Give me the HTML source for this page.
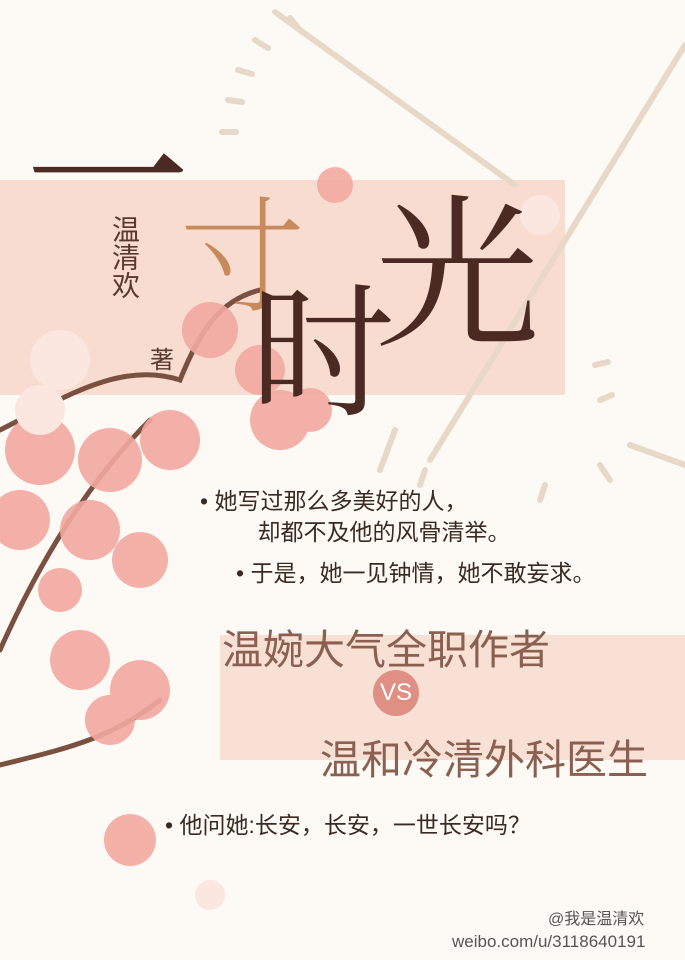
<!DOCTYPE html>
<html><head><meta charset="utf-8"><style>
body{margin:0;width:685px;height:960px;overflow:hidden;background:#fdfaf6;position:relative;font-family:"Liberation Sans","Noto Sans CJK SC",sans-serif}
.abs{position:absolute}
.t{font-family:"Noto Serif CJK SC",serif;color:#4a2a22;line-height:1}
</style></head><body>
<div class="abs" style="left:0;top:180px;width:565px;height:215px;background:#f8dcd0"></div>
<div class="abs" style="left:220px;top:635px;width:465px;height:125px;background:#f9e0d5"></div>
<svg class="abs" style="left:0;top:0" width="685" height="960">
<g stroke="#e8d8c8" stroke-width="6" stroke-linecap="round">
<line x1="275" y1="12" x2="515" y2="185"/>
<line x1="685" y1="45" x2="430" y2="460"/>
<line x1="290" y1="18" x2="300" y2="30"/><line x1="255" y1="40" x2="268" y2="48"/>
<line x1="238" y1="70" x2="252" y2="74"/><line x1="228" y1="100" x2="242" y2="102"/>
<line x1="222" y1="132" x2="236" y2="132"/><line x1="380" y1="470" x2="395" y2="430"/>
<line x1="420" y1="485" x2="425" y2="470"/><line x1="540" y1="500" x2="545" y2="485"/>
<line x1="610" y1="480" x2="600" y2="465"/><line x1="630" y1="445" x2="685" y2="465"/>
<line x1="600" y1="400" x2="612" y2="395"/><line x1="595" y1="365" x2="608" y2="362"/>
</g>
<g stroke="#7a5040" stroke-width="5" fill="none" stroke-linecap="round">
<path d="M0,430 C60,400 120,360 180,380 C200,330 220,300 260,290"/>
<path d="M0,650 C40,560 90,480 150,420"/>
<path d="M0,765 C60,750 110,740 160,700"/>
</g>
<g fill="#f2a9a0" opacity="0.9">
<circle cx="210" cy="330" r="28"/><circle cx="260" cy="370" r="25"/><circle cx="280" cy="420" r="30"/>
<circle cx="170" cy="440" r="30"/><circle cx="110" cy="460" r="32"/><circle cx="40" cy="450" r="35"/>
<circle cx="90" cy="530" r="30"/><circle cx="140" cy="560" r="28"/><circle cx="20" cy="520" r="30"/>
<circle cx="80" cy="660" r="30"/><circle cx="140" cy="690" r="30"/><circle cx="110" cy="720" r="25"/>
<circle cx="60" cy="590" r="22"/><circle cx="310" cy="410" r="22"/><circle cx="130" cy="840" r="26"/>
<circle cx="335" cy="185" r="18"/>
</g>
<g fill="#fbe6e0"><circle cx="60" cy="360" r="30"/><circle cx="40" cy="410" r="25"/><circle cx="540" cy="215" r="20"/><circle cx="210" cy="895" r="15"/></g>
</svg>
<div class="abs t" style="left:25px;top:85px;font-size:165px">一</div>
<div class="abs t" style="left:180px;top:185px;font-size:125px;color:#c78a5a;font-weight:200">寸</div>
<div class="abs t" style="left:250px;top:270px;font-size:145px">时</div>
<div class="abs t" style="left:375px;top:180px;font-size:165px">光</div>
<div class="abs" style="left:110px;top:215px;font-size:28px;color:#5a3a30;writing-mode:vertical-rl;line-height:1">温清欢</div>
<div class="abs" style="left:150px;top:340px;font-size:24px;color:#5a3a30">著</div>
<div class="abs" style="left:200px;top:486px;font-size:23px;color:#3a2a22;line-height:31px">• 她写过那么多美好的人，<br>&nbsp;&nbsp;&nbsp;&nbsp;&nbsp;&nbsp;&nbsp;&nbsp;&nbsp;却都不及他的风骨清举。</div>
<div class="abs" style="left:236px;top:554px;font-size:23px;color:#3a2a22">• 于是，她一见钟情，她不敢妄求。</div>
<div class="abs" style="left:222px;top:616px;font-size:41px;color:#8a6050">温婉大气全职作者</div>
<div class="abs" style="left:373px;top:670px;width:46px;height:46px;border-radius:50%;background:#e08f85;color:#fff;font-size:24px;text-align:center;line-height:46px">VS</div>
<div class="abs" style="left:320px;top:726px;font-size:41px;color:#8a6050">温和冷清外科医生</div>
<div class="abs" style="left:165px;top:806px;font-size:23px;color:#3a2a22">• 他问她:长安，长安，一世长安吗？</div>
<div class="abs" style="left:548px;top:905px;font-size:16px;color:#555">@我是温清欢</div>
<div class="abs" style="left:452px;top:932px;font-size:17px;color:#555">weibo.com/u/3118640191</div>
</body></html>
